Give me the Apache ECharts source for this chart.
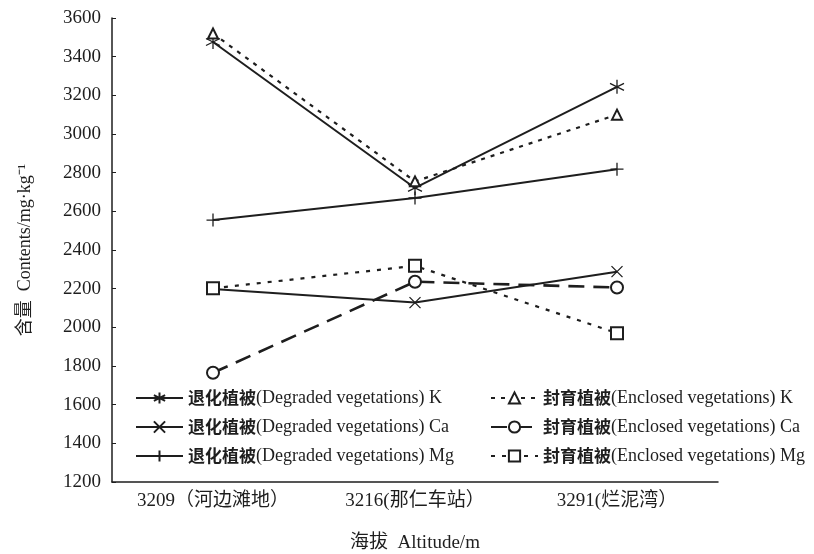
<!DOCTYPE html>
<html><head><meta charset="utf-8">
<script src="https://cdn.jsdelivr.net/npm/echarts@6/dist/echarts.min.js"></script>
<style>html,body{margin:0;padding:0;background:#fff}#c{width:814px;height:554px}</style>
</head><body><div id="c"></div>
<script>
const categories = ['3209（河边滩地）', '3216(那仁车站）', '3291(烂泥湾）'];
const yTicks = [1200, 1400, 1600, 1800, 2000, 2200, 2400, 2600, 2800, 3000, 3200, 3400, 3600];
const degradedK = [3476, 2721, 3244];
const enclosedK = [3520, 2755, 3100];
const degradedCa = [2198, 2128, 2288];
const enclosedCa = [1765, 2236, 2206];
const degradedMg = [2555, 2669, 2818];
const enclosedMg = [2202, 2318, 1970];
const names = [
  '退化植被(Degraded vegetations) K',
  '封育植被(Enclosed vegetations) K',
  '退化植被(Degraded vegetations) Ca',
  '封育植被(Enclosed vegetations) Ca',
  '退化植被(Degraded vegetations) Mg',
  '封育植被(Enclosed vegetations) Mg'
];

const INK = '#1e1e1e';
const FONT = '"Liberation Serif", "Noto Sans CJK SC", serif';
const asterisk = 'path://M0,-10L0,10M-8.66,-5L8.66,5M-8.66,5L8.66,-5';
const cross = 'path://M-7,-7L7,7M-7,7L7,-7';
const plus = 'path://M-8,0L8,0M0,-8L0,8';

function s(name, data, symbol, size, lineType, width) {
  return {
    name, type: 'line', data, symbol, symbolSize: size,
    lineStyle: { color: INK, width: width, type: lineType },
    itemStyle: { color: INK, borderColor: INK, borderWidth: 1.3 },
    emphasis: { disabled: true }
  };
}

const legendText = {
  fontFamily: FONT, fontSize: 18, color: INK,
  rich: {
    cn: { fontFamily: '"Noto Sans CJK SC", sans-serif', fontWeight: 'bold', fontSize: 17, color: INK, lineHeight: 20, verticalAlign: 'middle' },
    en: { fontFamily: FONT, fontSize: 18, color: INK, lineHeight: 20, verticalAlign: 'middle' }
  }
};
const legendFmt = n => { const i = n.indexOf('('); return '{cn|' + n.slice(0, i) + '}{en|' + n.slice(i) + '}'; };

const chart = echarts.init(document.getElementById('c'));
chart.setOption({
  backgroundColor: '#fff',
  animation: false,
  grid: { left: 112, right: 96, top: 18, bottom: 72, containLabel: false, outerBoundsMode: 'none' },
  legend: [
    {
      data: [names[0], names[2], names[4]], orient: 'vertical', left: 130, top: 384,
      itemWidth: 47, itemHeight: 14, itemGap: 11, formatter: legendFmt,
      textStyle: legendText
    },
    {
      data: [names[1], names[3], names[5]], orient: 'vertical', left: 485, top: 384,
      itemWidth: 47, itemHeight: 14, itemGap: 11, formatter: legendFmt,
      textStyle: legendText
    }
  ],
  xAxis: {
    type: 'category', data: categories, boundaryGap: true,
    name: '海拔  Altitude/m', nameLocation: 'middle', nameGap: 52,
    nameTextStyle: { fontFamily: FONT, fontSize: 19, color: INK },
    axisLine: { lineStyle: { color: INK, width: 1.5 } },
    axisTick: { inside: true, length: 5, lineStyle: { color: INK } },
    axisLabel: { fontFamily: FONT, fontSize: 19, color: INK, margin: 10 }
  },
  yAxis: {
    type: 'value', min: 1200, max: 3600, interval: 200,
    name: '含量  Contents/mg·kg⁻¹', nameLocation: 'middle', nameGap: 78,
    nameTextStyle: { fontFamily: FONT, fontSize: 18, color: INK },
    splitLine: { show: false },
    axisLine: { show: true, lineStyle: { color: INK, width: 1.5 } },
    axisTick: { show: true, inside: true, length: 4, lineStyle: { color: INK } },
    axisLabel: { fontFamily: FONT, fontSize: 19, color: INK, margin: 11,
      formatter: v => yTicks.includes(v) ? String(v) : '' }
  },
  series: [
    s(names[0], degradedK, asterisk, 14, 'solid', 2),
    s(names[1], enclosedK, 'emptyTriangle', 10, [4, 6], 2.2),
    s(names[2], degradedCa, cross, 11, 'solid', 2),
    s(names[3], enclosedCa, 'emptyCircle', 12, [16, 9], 2.6),
    s(names[4], degradedMg, plus, 13, 'solid', 2),
    s(names[5], enclosedMg, 'emptyRect', 12, [4, 7], 2.2)
  ]
});
</script></body></html>
